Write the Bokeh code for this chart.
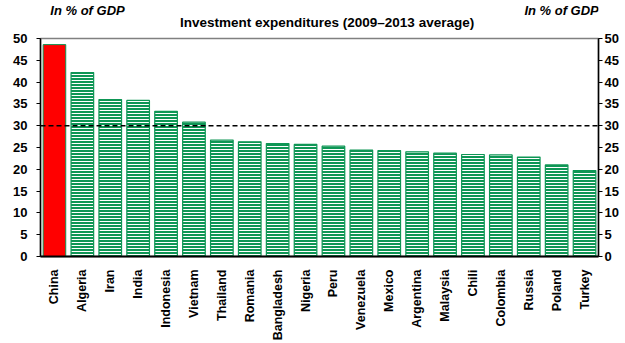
from bokeh.plotting import figure
from bokeh.layouts import column
from bokeh.models import ColumnDataSource, LinearAxis, Span, FixedTicker, Range1d, FactorRange
from bokeh.core.properties import value
from bokeh.embed import file_html
from bokeh.resources import INLINE
import math

countries = ["China", "Algeria", "Iran", "India", "Indonesia", "Vietnam", "Thailand", "Romania",
             "Bangladesh", "Nigeria", "Peru", "Venezuela", "Mexico", "Argentina", "Malaysia",
             "Chili", "Colombia", "Russia", "Poland", "Turkey"]
values = [48.6, 42.2, 36.0, 35.8, 33.3, 30.8, 26.7, 26.3, 25.9, 25.7, 25.3, 24.4, 24.3, 24.0,
          23.7, 23.4, 23.3, 22.8, 21.0, 19.7]
threshold = 30
y_ticks = [0, 5, 10, 15, 20, 25, 30, 35, 40, 45, 50]
unit_label = "In % of GDP"
title_text = "Investment expenditures (2009\u20132013 average)"

GREEN = "#0e9655"
FONT = "Liberation Sans"

HEAD_H = 30
# header with texts
h = figure(width=625, height=HEAD_H, x_range=Range1d(0, 625), y_range=Range1d(HEAD_H, 0),
           output_backend="svg", toolbar_location=None, min_border=0,
           x_axis_location=None, y_axis_location=None)
h.grid.grid_line_color = None
h.outline_line_color = None
h.text(x=[11, 542], y=[10, 10], text=[unit_label, unit_label], text_font=value(FONT),
       text_font_style="bold italic", text_font_size="13px", text_baseline="middle",
       text_align="left", text_color="black")
h.text(x=[321], y=[21.5], text=[title_text], text_font=value(FONT),
       text_font_style="bold", text_font_size="13.5px", text_baseline="middle",
       text_align="center", text_color="black")

p = figure(width=625, height=343 - HEAD_H, x_range=FactorRange(*countries, range_padding=0),
           y_range=Range1d(0, 50), output_backend="svg", toolbar_location=None,
           min_border_left=40, min_border_right=27, min_border_top=38 - HEAD_H, min_border_bottom=86)
p.background_fill_color = "white"
p.border_fill_color = "white"

china_src = ColumnDataSource(dict(x=countries[:1], top=values[:1]))
rest_src = ColumnDataSource(dict(x=countries[1:], top=values[1:]))
p.vbar(x="x", top="top", width=0.81, source=china_src, fill_color="#ff0000", line_color=GREEN, line_width=1)
p.vbar(x="x", top="top", width=0.81, source=rest_src, fill_color=GREEN, line_color=GREEN, line_width=1.2,
       hatch_pattern="horizontal_line", hatch_color="white", hatch_scale=3, hatch_weight=1)

p.add_layout(Span(location=threshold, dimension="width", line_color="black", line_dash="5 3", line_width=1.5))

p.xgrid.grid_line_color = None
p.ygrid.grid_line_color = None
p.outline_line_color = "#808080"
p.outline_line_width = 1.5

p.yaxis.ticker = FixedTicker(ticks=y_ticks)
right = LinearAxis(ticker=FixedTicker(ticks=y_ticks))
p.add_layout(right, "right")

for ax in p.yaxis:
    ax.major_tick_in = 0
    ax.major_tick_out = 4
    ax.minor_tick_line_color = None
    ax.axis_line_color = "black"
    ax.axis_line_width = 1.5
    ax.major_tick_line_color = "black"
    ax.major_label_text_font = FONT
    ax.major_label_text_font_style = "bold"
    ax.major_label_text_font_size = "13px"
    ax.major_label_text_color = "black"
p.yaxis[0].major_label_standoff = 9
right.major_label_standoff = 2

xa = p.xaxis[0]
xa.major_label_orientation = math.pi / 2
xa.major_tick_line_color = None
xa.axis_line_color = "black"
xa.axis_line_width = 2
xa.major_label_text_font = FONT
xa.major_label_text_font_style = "bold"
xa.major_label_text_font_size = "12.5px"
xa.major_label_text_color = "black"
xa.major_label_standoff = 7

open("out.html", "w").write(file_html(column(h, p, spacing=0), INLINE))
